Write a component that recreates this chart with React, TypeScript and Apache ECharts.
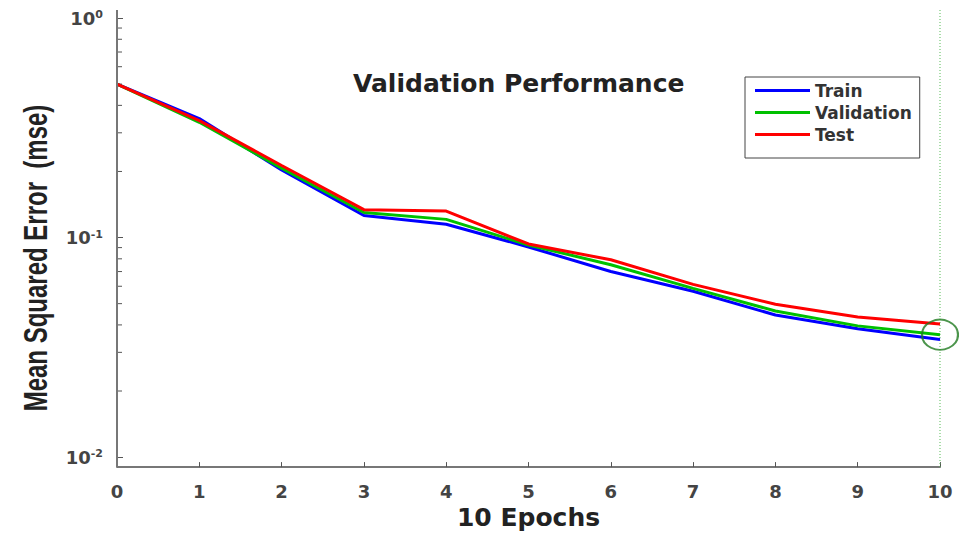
import { useEffect, useRef } from "react";
import * as echarts from "echarts";

const epochs = [0, 1, 2, 3, 4, 5, 6, 7, 8, 9, 10];
const trainMse = [0.5, 0.348, 0.203, 0.126, 0.115, 0.0906, 0.07, 0.0569, 0.0444, 0.0384, 0.0343];
const validationMse = [0.5, 0.335, 0.207, 0.13, 0.121, 0.0925, 0.0752, 0.0587, 0.0463, 0.0396, 0.0361];
const testMse = [0.5, 0.341, 0.213, 0.134, 0.132, 0.0935, 0.0792, 0.0612, 0.0497, 0.0435, 0.0404];
const bestEpoch = 10;
const minorTicks = [0.02, 0.03, 0.04, 0.05, 0.06, 0.07, 0.08, 0.09, 0.2, 0.3, 0.4, 0.5, 0.6, 0.7, 0.8, 0.9];
const titleText = "Validation Performance";
const xName = "10 Epochs";
const yName = "Mean Squared Error  (mse)";

const FONT = "DejaVu Sans";
const AXIS_COLOR = "#777";

export default function App() {
  const ref = useRef<HTMLDivElement>(null);
  useEffect(() => {
    const chart = echarts.init(ref.current!, null, { renderer: "svg" });
    const option: any = {
      animation: false,
      backgroundColor: "#fff",
      title: {
        text: titleText,
        left: 353,
        top: 71,
        padding: 0,
        textStyle: { fontFamily: FONT, fontWeight: "bold", fontSize: 25, color: "#222" },
      },
      legend: {
        orient: "vertical",
        left: 745,
        top: 77,
        data: ["Train", "Validation", "Test"],
        icon: "rect",
        itemWidth: 55,
        itemHeight: 3,
        itemGap: 5,
        padding: [5, 8, 15, 10],
        borderColor: "#444",
        borderWidth: 1,
        backgroundColor: "#fff",
        textStyle: { fontFamily: FONT, fontWeight: "bold", fontSize: 17, color: "#333" },
      },
      grid: { left: 117, right: 19, top: 18, bottom: 72 },
      xAxis: {
        type: "value",
        min: 0,
        max: 10,
        interval: 1,
        offset: 10,
        name: xName,
        nameLocation: "middle",
        nameGap: 37,
        nameTextStyle: { fontFamily: FONT, fontWeight: "bold", fontSize: 25, color: "#222" },
        axisLine: { show: true, lineStyle: { color: AXIS_COLOR, width: 2 } },
        axisTick: { show: true, inside: true, length: 5, lineStyle: { color: "#555", width: 1 } },
        axisLabel: { margin: 15, fontFamily: FONT, fontWeight: "bold", fontSize: 18, color: "#444" },
        splitLine: { show: false },
      },
      yAxis: {
        type: "log",
        logBase: 10,
        min: 0.01,
        max: 1,
        interval: 1,
        axisLine: { show: false },
        axisTick: { show: true, inside: true, length: 6, lineStyle: { color: "#555", width: 1 } },
        axisLabel: {
          margin: 14,
          formatter: (v: number) => `{b|10}{e|${Math.round(Math.log10(v))}}`,
          rich: {
            b: { fontFamily: FONT, fontWeight: "bold", fontSize: 18, color: "#444", lineHeight: 18 },
            e: { fontFamily: FONT, fontWeight: "bold", fontSize: 11, color: "#444", verticalAlign: "top", lineHeight: 11 },
          },
        },
        splitLine: { show: false },
      },
      series: [
        {
          name: "Train",
          type: "line",
          data: epochs.map((e, i) => [e, trainMse[i]]),
          symbol: "none",
          lineStyle: { color: "#0000ff", width: 3 },
          itemStyle: { color: "#0000ff" },
          z: 3,
        },
        {
          name: "Validation",
          type: "line",
          data: epochs.map((e, i) => [e, validationMse[i]]),
          symbol: "none",
          lineStyle: { color: "#00c000", width: 3 },
          itemStyle: { color: "#00c000" },
          z: 4,
        },
        {
          name: "Test",
          type: "line",
          data: epochs.map((e, i) => [e, testMse[i]]),
          symbol: "none",
          lineStyle: { color: "#ff0000", width: 3 },
          itemStyle: { color: "#ff0000" },
          z: 5,
        },
        {
          name: "Best",
          type: "scatter",
          data: [[bestEpoch, validationMse[epochs.indexOf(bestEpoch)]]],
          symbol: "circle",
          symbolSize: [36, 30],
          clip: false,
          silent: true,
          itemStyle: { color: "rgba(0,0,0,0)", borderColor: "#1f7a1f", borderWidth: 2 },
          z: 6,
        },
        {
          name: "minor",
          type: "custom",
          silent: true,
          data: minorTicks.map((v) => [epochs[0], v]),
          renderItem: (_p: any, api: any) => {
            const p = api.coord([api.value(0), api.value(1)]);
            return {
              type: "line",
              shape: { x1: p[0], y1: p[1], x2: p[0] + 5, y2: p[1] },
              style: { stroke: "#555", lineWidth: 1 },
            };
          },
          z: 2,
        },
      ],
    };
    chart.setOption(option);
    const x0 = chart.convertToPixel({ xAxisIndex: 0 }, epochs[0]) as number;
    const xb = chart.convertToPixel({ xAxisIndex: 0 }, bestEpoch) as number;
    const yTop = chart.convertToPixel({ yAxisIndex: 0 }, 1) as number;
    const yBot = chart.convertToPixel({ yAxisIndex: 0 }, 0.01) as number;
    chart.setOption({
      graphic: [
        {
          type: "line",
          silent: true,
          z: 10,
          shape: { x1: x0, y1: yTop - 8, x2: x0, y2: yBot + 10 },
          style: { stroke: AXIS_COLOR, lineWidth: 2 },
        },
        {
          type: "line",
          silent: true,
          z: 1,
          shape: { x1: xb, y1: yTop - 8, x2: xb, y2: yBot + 10 },
          style: { stroke: "#55bb55", lineWidth: 1, lineDash: [1, 2] },
        },
        {
          type: "text",
          silent: true,
          x: 36,
          y: 258,
          rotation: Math.PI / 2,
          scaleY: 1.35,
          style: {
            text: yName,
            fontFamily: "Liberation Sans, Arial, sans-serif",
            fontWeight: "bold",
            fontSize: 24,
            fill: "#222",
            align: "center",
            verticalAlign: "middle",
          },
        },
      ],
    });
    return () => chart.dispose();
  }, []);
  return (
    <div
      ref={ref}
      style={{ position: "fixed", left: 0, top: 0, width: 959, height: 535, background: "#fff" }}
    />
  );
}
